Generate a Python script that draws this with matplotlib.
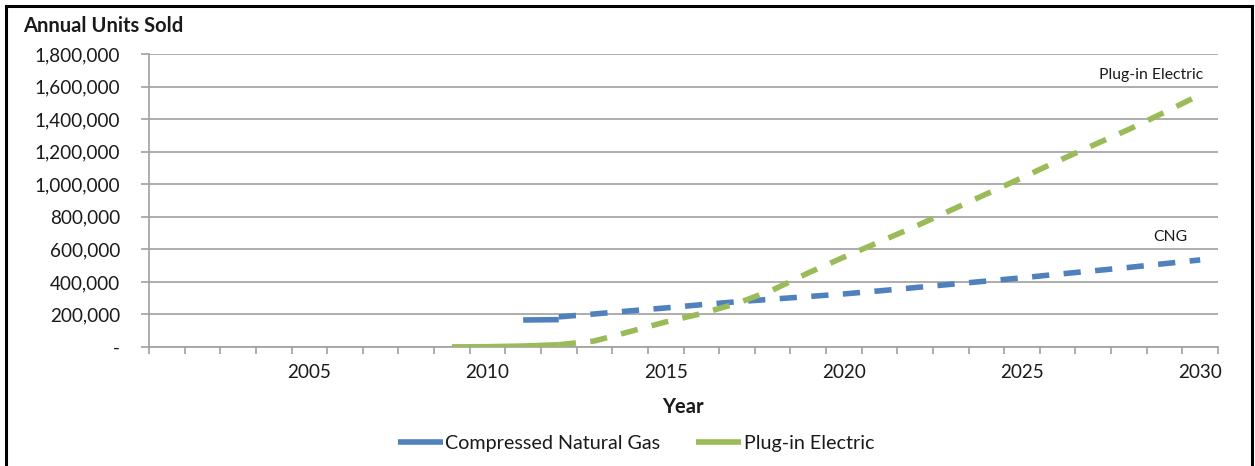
import matplotlib.pyplot as plt
import numpy as np
from matplotlib.ticker import FuncFormatter
from matplotlib.patches import Rectangle

plt.rcParams['font.family'] = ['Lato', 'DejaVu Sans']

# historical sales (solid) and projections (dashed)
cng_hist_years = [2011, 2012]
cng_hist = [166000, 168000]
cng_proj_years = list(range(2012, 2031))
cng_proj = [185000, 203000, 222000, 240000, 260000, 278000, 294000, 310000,
            326000, 345000, 365000, 385000, 405000, 425000, 447000, 468000,
            489000, 512000, 535000]

ev_hist_years = [2009, 2010, 2011, 2012]
ev_hist = [500, 2000, 6000, 14000]
ev_proj_years = list(range(2012, 2031))
ev_proj = [14000, 37000, 95000, 154000, 205000, 268000, 350000, 455000,
           552000, 646000, 740000, 840000, 940000, 1040000, 1142000, 1240000,
           1337000, 1442000, 1550000]

label_years = [2005, 2010, 2015, 2020, 2025, 2030]

blue = '#4F81BD'
green = '#9BBB59'
grid_c = '#a0a0a0'
txt = '#1a1a1a'

fig = plt.figure(figsize=(12.55, 4.66), dpi=100)
ax = fig.add_axes([149 / 1255, 1 - 347 / 466, (1218 - 149) / 1255, (347 - 54) / 466])

lw = 4
ax.plot(cng_hist_years, cng_hist, color=blue, lw=lw, solid_capstyle='butt',
        label='Compressed Natural Gas', zorder=3)
ax.plot(ev_hist_years, ev_hist, color=green, lw=lw, solid_capstyle='butt',
        label='Plug-in Electric', zorder=3)
ax.plot(cng_proj_years, cng_proj, color=blue, lw=lw, dashes=(3.1, 2.6),
        dash_capstyle='butt', zorder=3)
ax.plot(ev_proj_years, ev_proj, color=green, lw=lw, dashes=(3.1, 2.6),
        dash_capstyle='butt', zorder=3)

ax.set_xlim(2000.5, 2030.5)
ax.set_ylim(0, 1800000)
ax.set_yticks(np.arange(0, 1800001, 200000))
ax.yaxis.set_major_formatter(FuncFormatter(lambda v, p: '-' if v == 0 else f'{int(v):,}'))
ax.grid(axis='y', color=grid_c, lw=1.2)
ax.set_axisbelow(True)

ax.set_xticks(np.arange(2000.5, 2031, 1))
ax.set_xticklabels([])
ax.set_xticks(label_years, minor=True)
ax.set_xticklabels([str(y) for y in label_years], minor=True)
ax.tick_params(axis='x', which='major', length=5, color=grid_c, width=1.2)
ax.tick_params(axis='x', which='minor', length=0, pad=12, labelsize=13.6, labelcolor=txt)
ax.tick_params(axis='y', length=6, color=grid_c, width=1.2, pad=15, labelsize=13.6,
               labelcolor=txt)

for s in ['top', 'right']:
    ax.spines[s].set_visible(False)
for s in ['left', 'bottom']:
    ax.spines[s].set_color(grid_c)
    ax.spines[s].set_linewidth(1.2)

ax.text(2030.1, 1670000, 'Plug-in Electric', ha='right', va='center', fontsize=11.3, color=txt)
ax.text(2029.65, 674000, 'CNG', ha='right', va='center', fontsize=11.3, color=txt)

fig.text(23 / 1255, 1 - 26 / 466, 'Annual Units Sold', ha='left', va='center',
         fontsize=14.5, fontweight='bold', color=txt)
fig.text(683 / 1255, 1 - 407 / 466, 'Year', ha='center', va='center',
         fontsize=14.5, fontweight='bold', color=txt)

fig.legend(loc='center', bbox_to_anchor=(636 / 1255, 1 - 443 / 466), ncol=2, frameon=False,
           fontsize=14.2, handlelength=2.3, handletextpad=0.12, columnspacing=1.8,
           labelcolor=txt)

# outer frame
fig.patches.append(Rectangle((6 / 1255, -0.05), (1252 - 6) / 1255, 1.05 - 6 / 466,
                             transform=fig.transFigure, fill=False, ec='black', lw=2.2))

fig.savefig('out.png', dpi=100)
